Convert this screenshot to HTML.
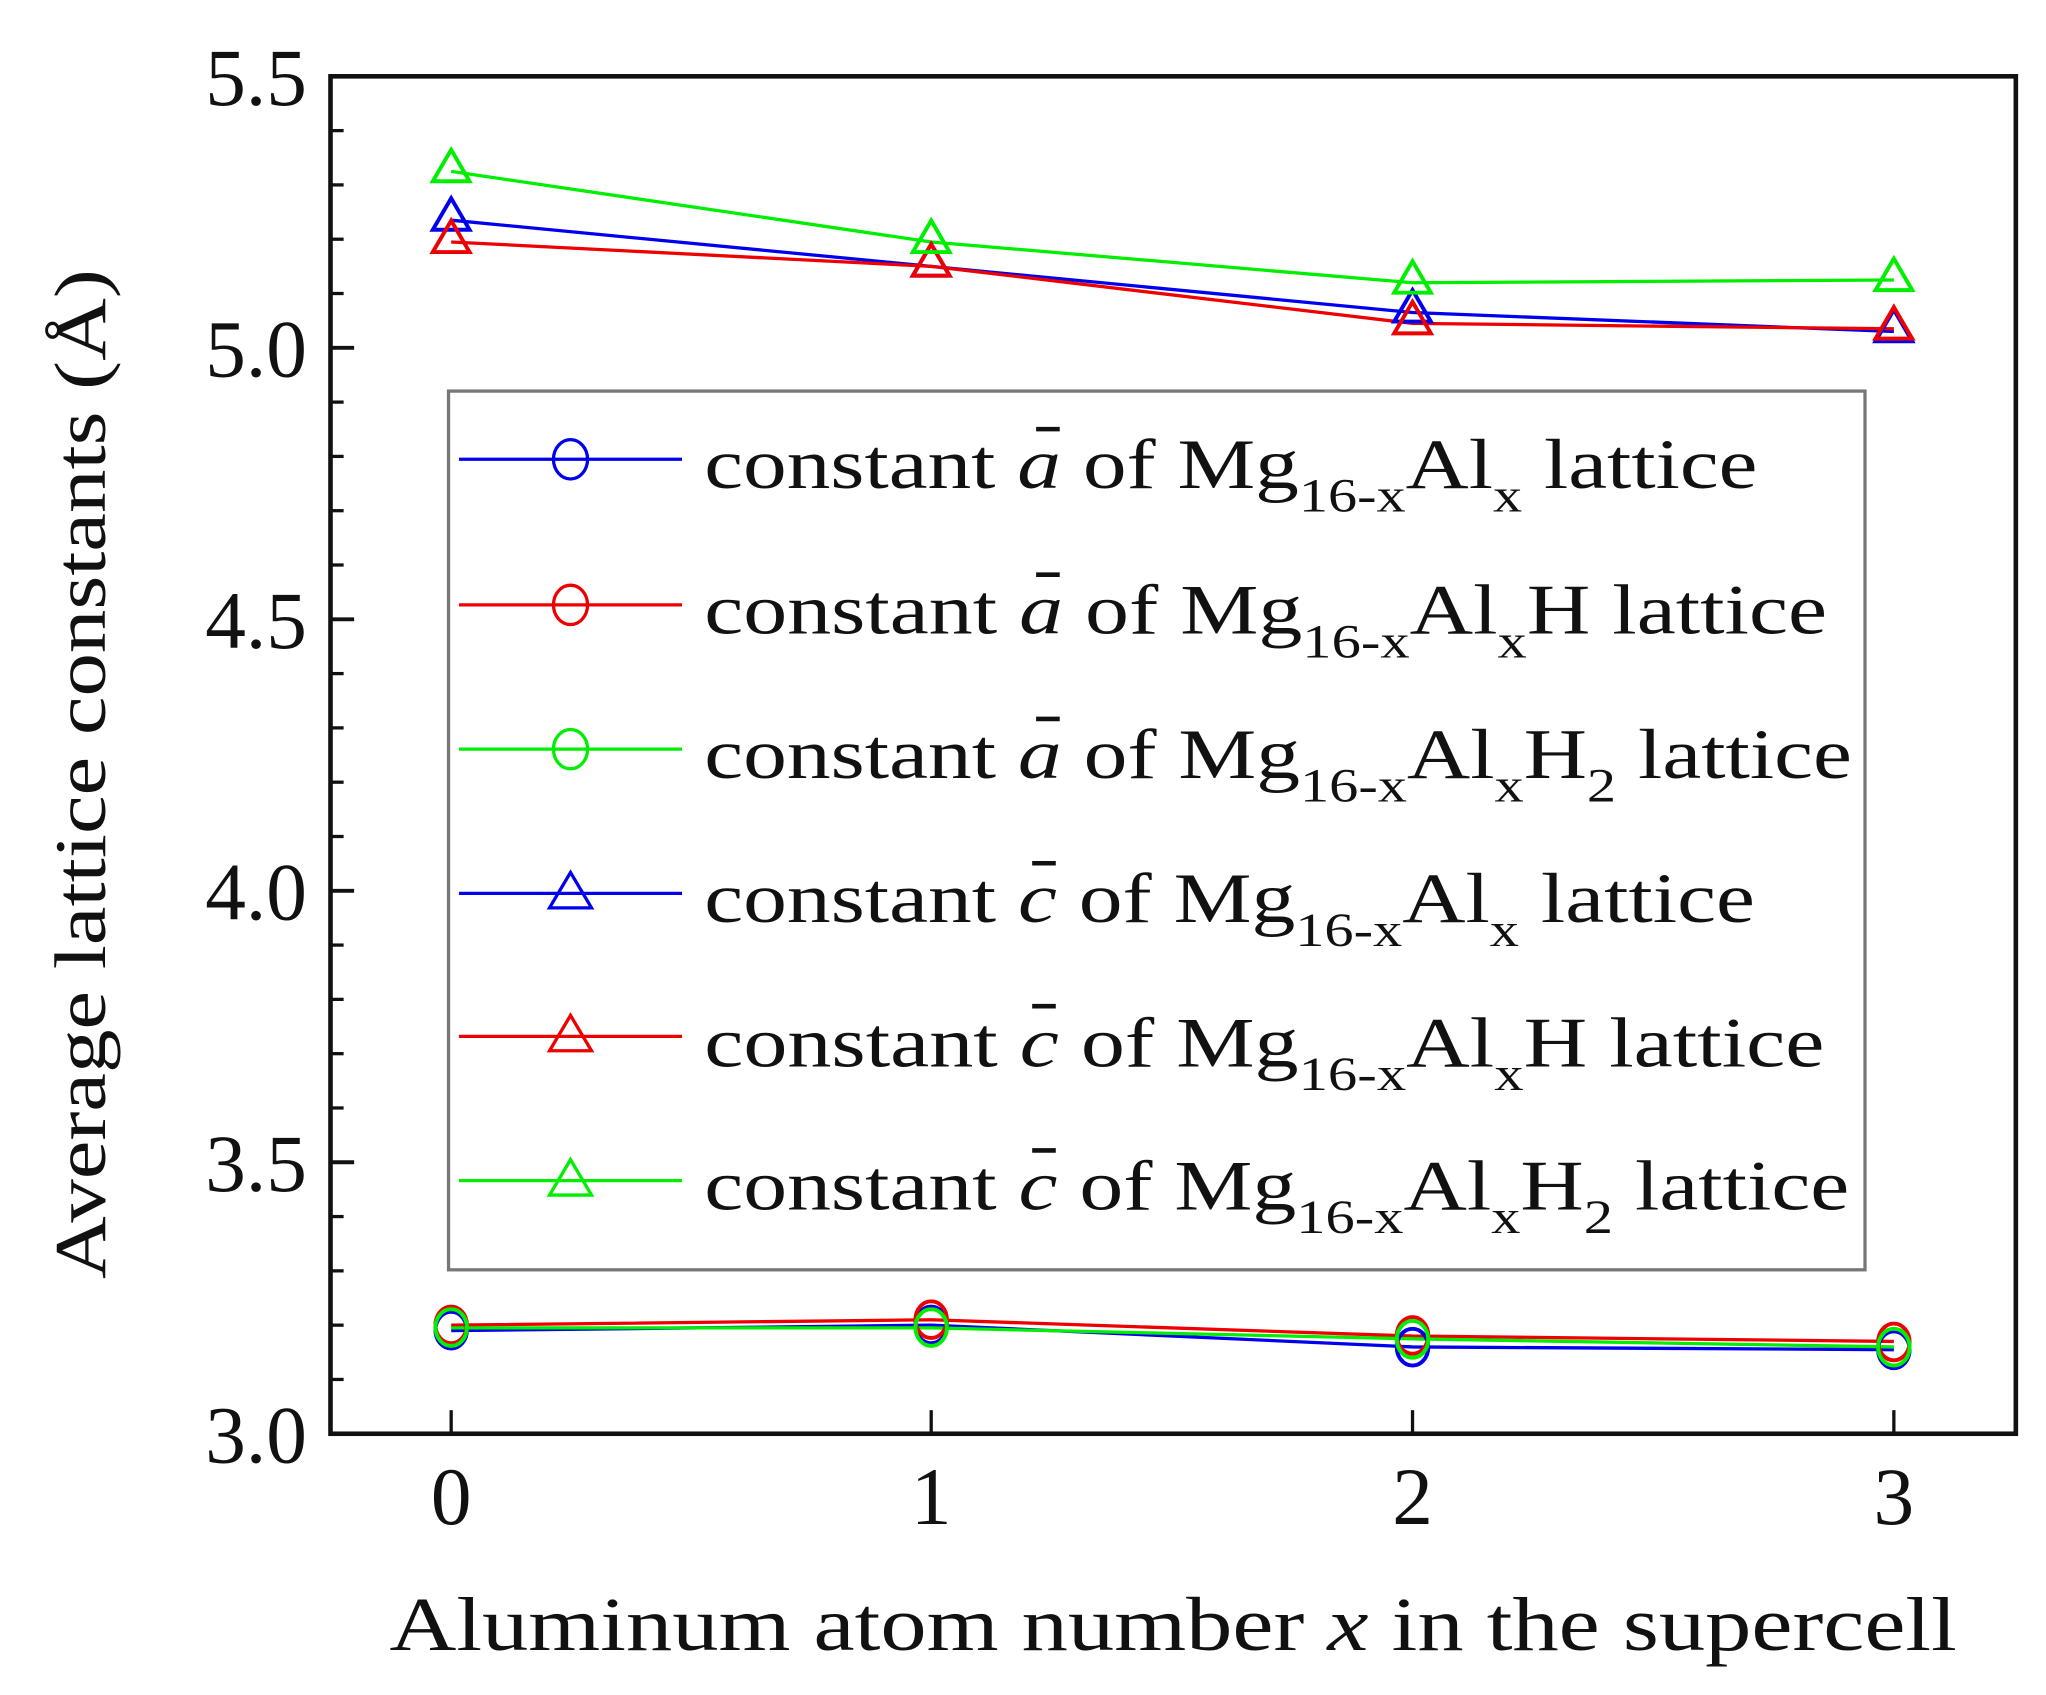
<!DOCTYPE html>
<html><head><meta charset="utf-8"><style>
html,body{margin:0;padding:0;background:#fff;}
svg{display:block;}
text{font-family:"Liberation Serif",serif;fill:#111;}
</style></head><body>
<svg width="2046" height="1695" viewBox="0 0 1560 1292" xmlns="http://www.w3.org/2000/svg">
<rect width="1560" height="1292" fill="#fff"/>
<rect x="252" y="58" width="1285" height="1035" fill="none" stroke="#111" stroke-width="3.5"/>
<g stroke="#111" stroke-width="3">
<line x1="252" y1="265" x2="270" y2="265"/>
<line x1="252" y1="472" x2="270" y2="472"/>
<line x1="252" y1="679" x2="270" y2="679"/>
<line x1="252" y1="886" x2="270" y2="886"/>
</g>
<g stroke="#111" stroke-width="2.5">
<line x1="252" y1="99.4" x2="262" y2="99.4"/><line x1="252" y1="140.8" x2="262" y2="140.8"/><line x1="252" y1="182.2" x2="262" y2="182.2"/><line x1="252" y1="223.6" x2="262" y2="223.6"/>
<line x1="252" y1="306.4" x2="262" y2="306.4"/><line x1="252" y1="347.8" x2="262" y2="347.8"/><line x1="252" y1="389.2" x2="262" y2="389.2"/><line x1="252" y1="430.6" x2="262" y2="430.6"/>
<line x1="252" y1="513.4" x2="262" y2="513.4"/><line x1="252" y1="554.8" x2="262" y2="554.8"/><line x1="252" y1="596.2" x2="262" y2="596.2"/><line x1="252" y1="637.6" x2="262" y2="637.6"/>
<line x1="252" y1="720.4" x2="262" y2="720.4"/><line x1="252" y1="761.8" x2="262" y2="761.8"/><line x1="252" y1="803.2" x2="262" y2="803.2"/><line x1="252" y1="844.6" x2="262" y2="844.6"/>
<line x1="252" y1="927.4" x2="262" y2="927.4"/><line x1="252" y1="968.8" x2="262" y2="968.8"/><line x1="252" y1="1010.2" x2="262" y2="1010.2"/><line x1="252" y1="1051.6" x2="262" y2="1051.6"/>
<line x1="344" y1="1093" x2="344" y2="1075"/><line x1="710" y1="1093" x2="710" y2="1075"/><line x1="1077" y1="1093" x2="1077" y2="1075"/><line x1="1444" y1="1093" x2="1444" y2="1075"/>
</g>
<g font-size="62" text-anchor="end">
<text x="234" y="80">5.5</text>
<text x="234" y="287">5.0</text>
<text x="234" y="494">4.5</text>
<text x="234" y="701">4.0</text>
<text x="234" y="908">3.5</text>
<text x="234" y="1115">3.0</text>
</g>
<g font-size="62" text-anchor="middle">
<text x="344" y="1162">0</text>
<text x="710" y="1162">1</text>
<text x="1077" y="1162">2</text>
<text x="1444" y="1162">3</text>
</g>
<text x="297" y="1258" font-size="58" textLength="1195" lengthAdjust="spacingAndGlyphs">Aluminum atom number <tspan font-style="italic">x</tspan> in the supercell</text>
<text transform="translate(80,975) rotate(-90)" font-size="56" textLength="770" lengthAdjust="spacingAndGlyphs">Average lattice constants (Å)</text>

<g fill="none" stroke-width="2.5">
<polyline stroke="#00ee00" points="344,130.5 710,184.3 1077,215.4 1444,213.3"/>
<polyline stroke="#0000ee" points="344,167.7 710,202.9 1077,238.1 1444,252.6"/>
<polyline stroke="#ee0000" points="344,184.3 710,202.9 1077,246.4 1444,250.5"/>
<polyline stroke="#0000ee" points="344,1014.4 710,1010.2 1077,1026.8 1444,1028.9"/>
<polyline stroke="#ee0000" points="344,1010.2 710,1006.1 1077,1018.5 1444,1022.6"/>
<polyline stroke="#00ee00" points="344,1012.3 710,1012.3 1077,1020.6 1444,1026.8"/>
</g>
<g fill="none" stroke-width="3">
<g stroke="#0000ee">
<path d="M344,151 l-14,24 h28 z"/><path d="M710,186 l-14,24 h28 z"/><path d="M1077,221 l-14,24 h28 z"/><path d="M1444,236 l-14,24 h28 z"/>
</g>
<g stroke="#ee0000">
<path d="M344,168 l-14,24 h28 z"/><path d="M710,186 l-14,24 h28 z"/><path d="M1077,230 l-14,24 h28 z"/><path d="M1444,234 l-14,24 h28 z"/>
</g>
<g stroke="#00ee00">
<path d="M344,114 l-14,24 h28 z"/><path d="M710,168 l-14,24 h28 z"/><path d="M1077,199 l-14,24 h28 z"/><path d="M1444,197 l-14,24 h28 z"/>
</g>
<g stroke="#0000ee">
<ellipse cx="344" cy="1014" rx="12" ry="14"/><ellipse cx="710" cy="1010" rx="12" ry="14"/><ellipse cx="1077" cy="1027" rx="12" ry="14"/><ellipse cx="1444" cy="1029" rx="12" ry="14"/>
</g>
<g stroke="#ee0000">
<ellipse cx="344" cy="1010" rx="12" ry="14"/><ellipse cx="710" cy="1006" rx="12" ry="14"/><ellipse cx="1077" cy="1018" rx="12" ry="14"/><ellipse cx="1444" cy="1023" rx="12" ry="14"/>
</g>
<g stroke="#00ee00">
<ellipse cx="344" cy="1012" rx="12" ry="14"/><ellipse cx="710" cy="1012" rx="12" ry="14"/><ellipse cx="1077" cy="1021" rx="12" ry="14"/><ellipse cx="1444" cy="1027" rx="12" ry="14"/>
</g>
</g>

<rect x="342" y="298" width="1080" height="670" fill="#fff" stroke="#777" stroke-width="2.5"/>
<g stroke-width="2.5" fill="none">
<line x1="350" y1="350" x2="520" y2="350" stroke="#0000ee"/><ellipse cx="435" cy="350" rx="13" ry="15" stroke="#0000ee"/>
<line x1="350" y1="461" x2="520" y2="461" stroke="#ee0000"/><ellipse cx="435" cy="461" rx="13" ry="15" stroke="#ee0000"/>
<line x1="350" y1="571" x2="520" y2="571" stroke="#00ee00"/><ellipse cx="435" cy="571" rx="13" ry="15" stroke="#00ee00"/>
<line x1="350" y1="681" x2="520" y2="681" stroke="#0000ee"/><path d="M435,665 l-16,27 h32 z" stroke="#0000ee"/>
<line x1="350" y1="790" x2="520" y2="790" stroke="#ee0000"/><path d="M435,774 l-16,27 h32 z" stroke="#ee0000"/>
<line x1="350" y1="900" x2="520" y2="900" stroke="#00ee00"/><path d="M435,884 l-16,27 h32 z" stroke="#00ee00"/>
</g>
<g stroke="#111" stroke-width="3.5">
<line x1="790" y1="327" x2="808" y2="327"/>
<line x1="790" y1="438" x2="808" y2="438"/>
<line x1="790" y1="548" x2="808" y2="548"/>
<line x1="787" y1="658" x2="805" y2="658"/>
<line x1="787" y1="767" x2="805" y2="767"/>
<line x1="787" y1="877" x2="805" y2="877"/>
</g>
<g font-size="54">
<text x="537" y="372" textLength="803" lengthAdjust="spacingAndGlyphs">constant <tspan font-style="italic">a</tspan> of Mg<tspan font-size="36" dy="18">16-x</tspan><tspan dy="-18">Al</tspan><tspan font-size="36" dy="18">x</tspan><tspan dy="-18"> lattice</tspan></text>
<text x="537" y="483" textLength="856" lengthAdjust="spacingAndGlyphs">constant <tspan font-style="italic">a</tspan> of Mg<tspan font-size="36" dy="18">16-x</tspan><tspan dy="-18">Al</tspan><tspan font-size="36" dy="18">x</tspan><tspan dy="-18">H lattice</tspan></text>
<text x="537" y="593" textLength="875" lengthAdjust="spacingAndGlyphs">constant <tspan font-style="italic">a</tspan> of Mg<tspan font-size="36" dy="18">16-x</tspan><tspan dy="-18">Al</tspan><tspan font-size="36" dy="18">x</tspan><tspan dy="-18">H</tspan><tspan font-size="36" dy="18">2</tspan><tspan dy="-18"> lattice</tspan></text>
<text x="537" y="703" textLength="801" lengthAdjust="spacingAndGlyphs">constant <tspan font-style="italic">c</tspan> of Mg<tspan font-size="36" dy="18">16-x</tspan><tspan dy="-18">Al</tspan><tspan font-size="36" dy="18">x</tspan><tspan dy="-18"> lattice</tspan></text>
<text x="537" y="813" textLength="854" lengthAdjust="spacingAndGlyphs">constant <tspan font-style="italic">c</tspan> of Mg<tspan font-size="36" dy="18">16-x</tspan><tspan dy="-18">Al</tspan><tspan font-size="36" dy="18">x</tspan><tspan dy="-18">H lattice</tspan></text>
<text x="537" y="922" textLength="873" lengthAdjust="spacingAndGlyphs">constant <tspan font-style="italic">c</tspan> of Mg<tspan font-size="36" dy="18">16-x</tspan><tspan dy="-18">Al</tspan><tspan font-size="36" dy="18">x</tspan><tspan dy="-18">H</tspan><tspan font-size="36" dy="18">2</tspan><tspan dy="-18"> lattice</tspan></text>
</g>
</svg>
</body></html>
